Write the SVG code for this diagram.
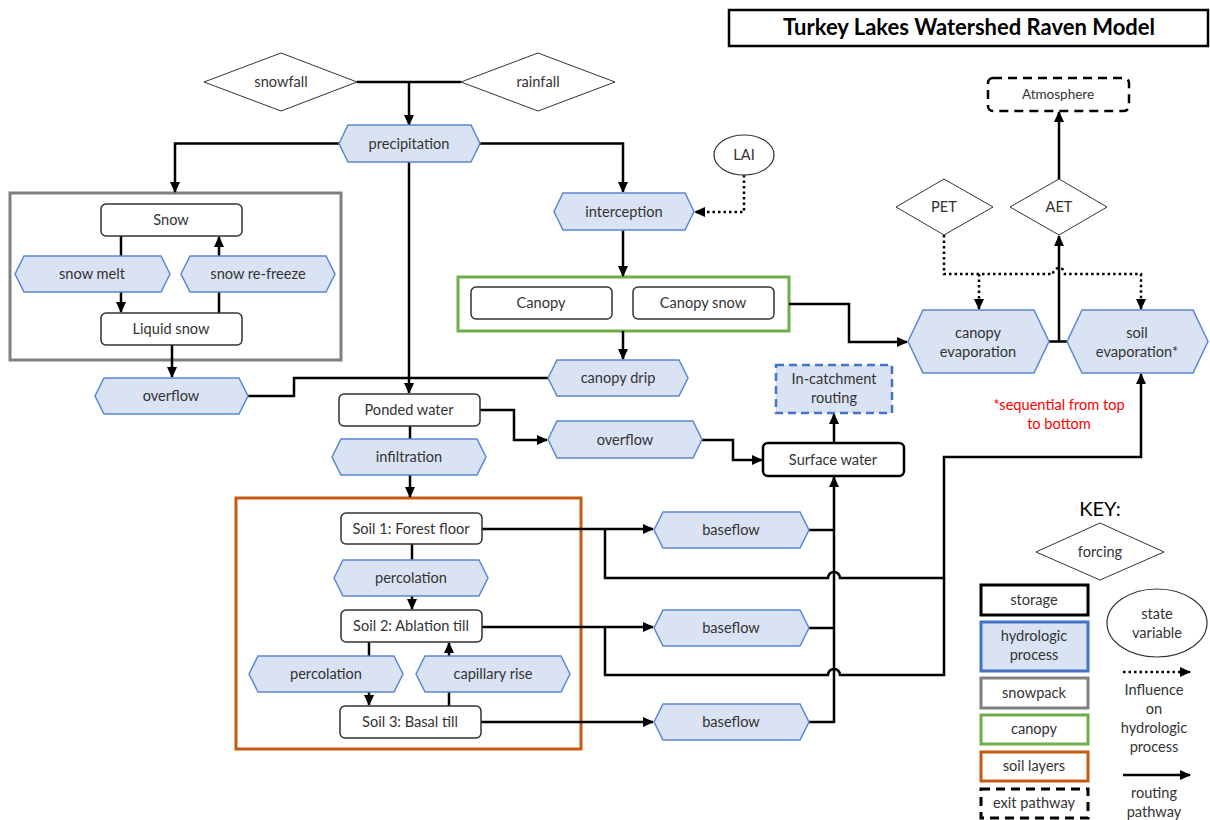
<svg xmlns="http://www.w3.org/2000/svg" width="1210" height="820" viewBox="0 0 1210 820">
<style>
text{font-family:Lato,"Open Sans","Liberation Sans",sans-serif;font-size:14.6px;fill:#333;text-anchor:middle}
.hex{fill:#DAE3F3;stroke:#5B87D0;stroke-width:1.5}
.st{fill:#fff;stroke:#333;stroke-width:1.5}
.dia{fill:#fff;stroke:#333;stroke-width:1}
.c{fill:none;stroke:#000;stroke-width:2.5}
.d{fill:none;stroke:#000;stroke-width:2.5;stroke-dasharray:2.5 3}
.a{marker-end:url(#ah)}
</style>
<defs>
<marker id="ah" markerUnits="userSpaceOnUse" markerWidth="11" markerHeight="10" refX="10" refY="5" orient="auto"><path d="M0,0 L11,5 L0,10 z" fill="#000"/></marker>
</defs>
<rect width="1210" height="820" fill="#fff"/>

<g id="title">
<rect x="729" y="10" width="479" height="36" fill="#fff" stroke="#000" stroke-width="2.5"/>
<text x="969" y="35" style="font-size:22px;font-weight:bold;fill:#000">Turkey Lakes Watershed Raven Model</text>
</g>

<g id="snowpack-box"><rect x="10" y="193" width="331" height="167" fill="none" stroke="#808080" stroke-width="3"/></g>
<g id="canopy-box"><rect x="458" y="277" width="331" height="54" fill="none" stroke="#70AD47" stroke-width="3"/></g>
<g id="soil-box"><rect x="236" y="498" width="345" height="251" fill="none" stroke="#C55A11" stroke-width="3"/></g>

<g id="connectors">
<path class="c" d="M357,82 H461"/>
<path class="c a" d="M409,82 V125"/>
<path class="c a" d="M339,143.5 H175 V192"/>
<path class="c a" d="M480,143.5 H623 V192"/>
<path class="c a" d="M409,162 V393"/>
<path class="c a" d="M121,236 V312"/>
<path class="c a" d="M219,313 V237"/>
<path class="c a" d="M172,345 V377"/>
<path class="c" d="M248,396 H294 V378 H548"/>
<path class="c" d="M410,426 V439"/>
<path class="c a" d="M410,475 V497"/>
<path class="c a" d="M480,410 H514 V440 H547"/>
<path class="c a" d="M702,440 H733 V460 H762"/>
<path class="c a" d="M834,443 V414"/>
<path class="c a" d="M623,230 V276"/>
<path class="c a" d="M623,331 V359"/>
<path class="d a" d="M744,175 V212 H695"/>
<path class="c a" d="M789,304 H849 V342 H907"/>
<path class="c" d="M1049,341.5 H1067"/>
<path class="c a" d="M1059,341.5 V236"/>
<path class="c a" d="M1059,179 V112"/>
<path class="d a" d="M944,235 V274 H1053 a6,6 0 0 1 12,0 H1141 V309"/>
<path class="d a" d="M979,274 V309"/>
<path class="c a" d="M482,529 H653"/>
<path class="c a" d="M605,529 V578 H828 a6,6 0 0 1 12,0 H944 V457 H1141 V374"/>
<path class="c a" d="M482,627 H653"/>
<path class="c" d="M605,627 V675 H828 a6,6 0 0 1 12,0 H944 V578"/>
<path class="c a" d="M481,722 H653"/>
<path class="c" d="M809,530 H834"/>
<path class="c" d="M809,628 H834"/>
<path class="c a" d="M809,722 H834 V477"/>
<path class="c" d="M412,544 V560"/>
<path class="c a" d="M412,596 V609"/>
<path class="c" d="M369,642 V656"/>
<path class="c a" d="M369,692 V705"/>
<path class="c" d="M449,706 V692"/>
<path class="c a" d="M449,656 V643"/>
</g>

<g id="snowfall"><polygon class="dia" points="204,82 281,53 357,82 281,111"/><text x="281" y="87">snowfall</text></g>
<g id="rainfall"><polygon class="dia" points="461,82 538,53 615,82 538,111"/><text x="538" y="87">rainfall</text></g>
<g id="precipitation"><polygon class="hex" points="339,143.5 348,125 471,125 480,143.5 471,162 348,162"/><text x="409" y="148.5">precipitation</text></g>
<g id="interception"><polygon class="hex" points="554,211.5 563,193 685,193 694,211.5 685,230 563,230"/><text x="624" y="216.5">interception</text></g>
<g id="lai"><ellipse cx="744" cy="155" rx="30" ry="20" fill="#fff" stroke="#333" stroke-width="1.2"/><text x="744" y="160">LAI</text></g>

<g id="snow"><rect class="st" x="101" y="204" width="141" height="32" rx="5"/><text x="171" y="225">Snow</text></g>
<g id="snow-melt"><polygon class="hex" points="15,274 24,256 161,256 170,274 161,292 24,292"/><text x="92" y="279">snow melt</text></g>
<g id="snow-refreeze"><polygon class="hex" points="181,274 190,256 326,256 335,274 326,292 190,292"/><text x="258" y="279">snow re-freeze</text></g>
<g id="liquid-snow"><rect class="st" x="101" y="313" width="141" height="32" rx="5"/><text x="171" y="334">Liquid snow</text></g>
<g id="overflow-1"><polygon class="hex" points="95,396 104,378 239,378 248,396 239,414 104,414"/><text x="171" y="401">overflow</text></g>

<g id="canopy"><rect class="st" x="471" y="287" width="141" height="32" rx="5"/><text x="541" y="308">Canopy</text></g>
<g id="canopy-snow"><rect class="st" x="633" y="287" width="141" height="32" rx="5"/><text x="703" y="308">Canopy snow</text></g>
<g id="canopy-drip"><polygon class="hex" points="548,378 557,360 679,360 688,378 679,396 557,396"/><text x="618" y="383">canopy drip</text></g>

<g id="ponded-water"><rect class="st" x="339" y="394" width="141" height="32" rx="5"/><text x="409" y="415">Ponded water</text></g>
<g id="infiltration"><polygon class="hex" points="332,457 341,439 477,439 486,457 477,475 341,475"/><text x="409" y="462">infiltration</text></g>
<g id="overflow-2"><polygon class="hex" points="548,439.5 557,421 693,421 702,439.5 693,458 557,458"/><text x="625" y="444.5">overflow</text></g>
<g id="surface-water"><rect x="763" y="443" width="141" height="33" rx="5" fill="#fff" stroke="#000" stroke-width="2.5"/><text x="833" y="465">Surface water</text></g>
<g id="in-catchment"><rect x="776" y="365" width="116" height="48" fill="#DAE3F3" stroke="#4472C4" stroke-width="2.5" stroke-dasharray="8 5"/><text x="834" y="384">In-catchment</text><text x="834" y="403">routing</text></g>

<g id="soil1"><rect class="st" x="341" y="513" width="141" height="31" rx="5"/><text x="411" y="533.5">Soil 1: Forest floor</text></g>
<g id="percolation-1"><polygon class="hex" points="334,578 343,560 479,560 488,578 479,596 343,596"/><text x="411" y="583">percolation</text></g>
<g id="soil2"><rect class="st" x="341" y="610" width="141" height="32" rx="5"/><text x="411" y="631">Soil 2: Ablation till</text></g>
<g id="percolation-2"><polygon class="hex" points="249,674 258,656 394,656 403,674 394,692 258,692"/><text x="326" y="679">percolation</text></g>
<g id="capillary-rise"><polygon class="hex" points="416,674 425,656 561,656 570,674 561,692 425,692"/><text x="493" y="679">capillary rise</text></g>
<g id="soil3"><rect class="st" x="340" y="706" width="141" height="32" rx="5"/><text x="410" y="727">Soil 3: Basal till</text></g>

<g id="baseflow-1"><polygon class="hex" points="654,530 663,512 800,512 809,530 800,548 663,548"/><text x="731" y="535">baseflow</text></g>
<g id="baseflow-2"><polygon class="hex" points="654,628 663,610 800,610 809,628 800,646 663,646"/><text x="731" y="633">baseflow</text></g>
<g id="baseflow-3"><polygon class="hex" points="654,722 663,704 800,704 809,722 800,740 663,740"/><text x="731" y="727">baseflow</text></g>

<g id="atmosphere"><rect x="988" y="78" width="141" height="33" rx="5" fill="#fff" stroke="#000" stroke-width="2.5" stroke-dasharray="9 6"/><text x="1058" y="99" style="font-size:13.5px">Atmosphere</text></g>
<g id="pet"><polygon class="dia" points="896,207 944,179 993,207 944,235"/><text x="944" y="212">PET</text></g>
<g id="aet"><polygon class="dia" points="1010,207 1059,179 1107,207 1059,235"/><text x="1059" y="212">AET</text></g>
<g id="canopy-evaporation"><polygon class="hex" points="908,341.5 923,310 1034,310 1049,341.5 1034,373 923,373"/><text x="978" y="338">canopy</text><text x="978" y="357">evaporation</text></g>
<g id="soil-evaporation"><polygon class="hex" points="1067,341.5 1082,310 1193,310 1208,341.5 1193,373 1082,373"/><text x="1137" y="338">soil</text><text x="1137" y="357">evaporation*</text></g>
<g id="note"><text x="1059" y="410" style="fill:#FF0000">*sequential from top</text><text x="1059" y="429" style="fill:#FF0000">to bottom</text></g>

<g id="key">
<text x="1100" y="516" style="font-size:20px;fill:#000">KEY:</text>
<polygon class="dia" points="1036,552 1100,523 1164,552 1100,580"/><text x="1100" y="557">forcing</text>
<rect x="981" y="585" width="107" height="30" fill="#fff" stroke="#000" stroke-width="3"/><text x="1034" y="605">storage</text>
<rect x="981" y="622" width="107" height="49" fill="#DAE3F3" stroke="#4472C4" stroke-width="3"/><text x="1034" y="641">hydrologic</text><text x="1034" y="660">process</text>
<rect x="981" y="678" width="107" height="30" fill="#fff" stroke="#808080" stroke-width="3"/><text x="1034" y="698">snowpack</text>
<rect x="981" y="715" width="107" height="29" fill="#fff" stroke="#70AD47" stroke-width="3"/><text x="1034" y="734">canopy</text>
<rect x="981" y="752" width="107" height="29" fill="#fff" stroke="#C55A11" stroke-width="3"/><text x="1034" y="771">soil layers</text>
<rect x="981" y="789" width="107" height="29" fill="#fff" stroke="#000" stroke-width="3" stroke-dasharray="9 6"/><text x="1034" y="808">exit pathway</text>
<ellipse cx="1157" cy="623" rx="50" ry="34" fill="#fff" stroke="#333" stroke-width="1.2"/><text x="1157" y="619">state</text><text x="1157" y="638">variable</text>
<path class="d a" d="M1123,672 H1190"/>
<text x="1154" y="695">Influence</text><text x="1154" y="714">on</text><text x="1154" y="733">hydrologic</text><text x="1154" y="752">process</text>
<path class="c a" d="M1123,775 H1190"/>
<text x="1154" y="798">routing</text><text x="1154" y="817">pathway</text>
</g>
</svg>
